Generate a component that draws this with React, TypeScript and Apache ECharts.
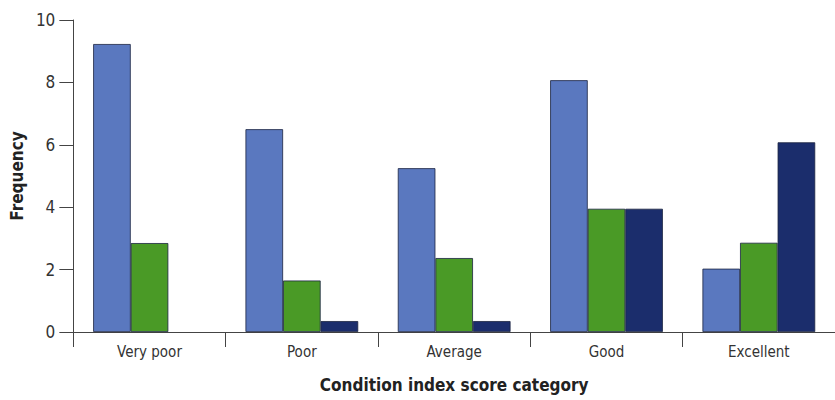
import React, { useEffect, useRef } from "react";
import * as echarts from "echarts";

const categories = ["Very poor", "Poor", "Average", "Good", "Excellent"];
const seriesA = [9.23, 6.5, 5.25, 8.07, 2.03];
const seriesB = [2.85, 1.65, 2.37, 3.95, 2.86];
const seriesC = [0, 0.35, 0.35, 3.95, 6.08];
const yTicks = [0, 2, 4, 6, 8, 10];

const FONT = "'DejaVu Sans Condensed', 'Liberation Sans Narrow', sans-serif";

export default function App() {
  const ref = useRef<HTMLDivElement>(null);
  useEffect(() => {
    if (!ref.current) return;
    const chart = echarts.init(ref.current, undefined, { renderer: "svg" });
    const barStyle = (color: string) => ({
      color,
      borderColor: "#1a2340",
      borderWidth: 0.8,
    });
    const toData = (arr: number[]) =>
      arr.map((v) => (v === 0 ? { value: v, itemStyle: { borderWidth: 0, opacity: 0 } } : v));
    chart.setOption({
      animation: false,
      grid: { left: 67, right: -3, top: 20, bottom: 68, containLabel: false },
      xAxis: {
        type: "category",
        data: categories,
        name: "Condition index score category",
        nameLocation: "middle",
        nameGap: 44,
        nameTextStyle: { fontFamily: FONT, fontWeight: "bold", fontSize: 17, color: "#222" },
        axisLine: { lineStyle: { color: "#444", width: 1 } },
        axisTick: { show: true, length: 15, lineStyle: { color: "#444" } },
        axisLabel: { fontFamily: FONT, fontSize: 15, color: "#333", margin: 12 },
      },
      yAxis: {
        type: "value",
        min: 0,
        max: 10,
        interval: 2,
        name: "Frequency",
        nameLocation: "middle",
        nameGap: 46,
        nameTextStyle: { fontFamily: FONT, fontWeight: "bold", fontSize: 17, color: "#222" },
        axisLine: { show: true, lineStyle: { color: "#444", width: 1 } },
        axisTick: { show: true, length: 14, lineStyle: { color: "#444" } },
        axisLabel: {
          fontFamily: FONT,
          fontSize: 17,
          color: "#333",
          margin: 18,
          formatter: (v: number) => (yTicks.includes(v) ? String(v) : ""),
        },
        splitLine: { show: false },
      },
      series: [
        { type: "bar", data: toData(seriesA), itemStyle: barStyle("#5a78bf"), barGap: "0%", barCategoryGap: "26%" },
        { type: "bar", data: toData(seriesB), itemStyle: barStyle("#4a9a26"), barGap: "0%", barCategoryGap: "26%" },
        { type: "bar", data: toData(seriesC), itemStyle: barStyle("#1b2d6c"), barGap: "0%", barCategoryGap: "26%" },
      ],
    });
    return () => chart.dispose();
  }, []);
  return <div ref={ref} style={{ width: 835, height: 400, position: "absolute", left: 0, top: 0 }} />;
}
